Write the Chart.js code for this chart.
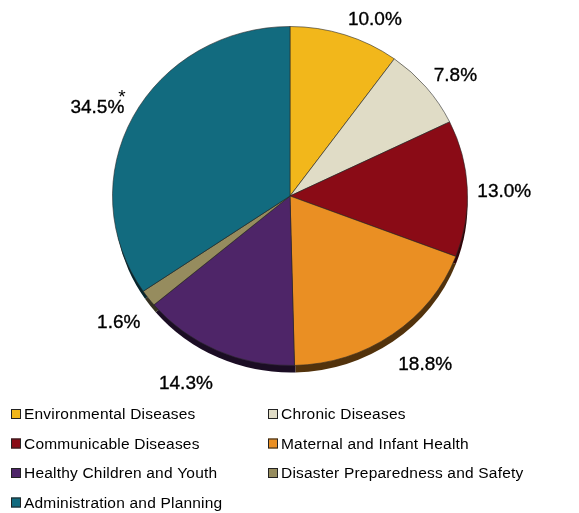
<!DOCTYPE html>
<html>
<head>
<meta charset="utf-8">
<script src="https://cdn.jsdelivr.net/npm/chart.js@4/dist/chart.umd.min.js"></script>
<style>
  html, body { margin: 0; padding: 0; background: #fff; }
  canvas { display: block; }
</style>
</head>
<body>
<canvas id="myChart" width="579" height="513"></canvas>
<script>
// data
var categories = ['Environmental Diseases', 'Chronic Diseases', 'Communicable Diseases',
  'Maternal and Infant Health', 'Healthy Children and Youth', 'Disaster Preparedness and Safety',
  'Administration and Planning'];
var shares = [10.0, 7.8, 13.0, 18.8, 14.3, 1.6, 34.5];
var notes = ['', '', '', '', '', '', '*'];
var colors = ['#F2B71B', '#E0DCC6', '#8A0B16', '#EA8F23', '#4E2568', '#968C5E', '#126B7F'];

var FONT = '"Liberation Sans", Arial, sans-serif';
var squash = 0.955;   // pie is drawn slightly flattened, like the original

function darker(hex, f) {
  var n = parseInt(hex.slice(1), 16);
  var r = Math.round(((n >> 16) & 255) * f), g = Math.round(((n >> 8) & 255) * f), b = Math.round((n & 255) * f);
  return 'rgb(' + r + ',' + g + ',' + b + ')';
}

// flatten the pie and put a dark rim under it
var rimPlugin = {
  id: 'rim',
  beforeDatasetsDraw: function(chart) {
    var ctx = chart.ctx;
    var arcs = chart.getDatasetMeta(0).data;
    var cx = arcs[0].x, cy = arcs[0].y;
    ctx.save();
    ctx.translate(cx, cy);
    ctx.scale(1, squash);
    ctx.translate(-cx, -cy);
    arcs.forEach(function(a, i) {
      var oy = a.y + 8 / squash;
      ctx.beginPath();
      ctx.moveTo(a.x + 1, oy);
      ctx.arc(a.x + 1, oy, a.outerRadius - 1, a.startAngle, a.endAngle);
      ctx.closePath();
      ctx.fillStyle = darker(colors[i], 0.35);
      ctx.fill();
    });
  },
  afterDatasetsDraw: function(chart) {
    chart.ctx.restore();
  }
};

// percentage labels outside the slices
var labelPlugin = {
  id: 'outLabels',
  afterDraw: function(chart) {
    var ctx = chart.ctx;
    var arcs = chart.getDatasetMeta(0).data;
    ctx.save();
    ctx.font = '19px ' + FONT;
    ctx.fillStyle = '#000';
    ctx.strokeStyle = '#000';
    ctx.lineWidth = 0.35;
    ctx.textAlign = 'center';
    ctx.textBaseline = 'middle';
    arcs.forEach(function(a, i) {
      var mid = (a.startAngle + a.endAngle) / 2;
      var c = Math.cos(mid), s = Math.sin(mid);
      var rx = a.outerRadius + 10;
      var ry = a.outerRadius * squash + 10 + (s > 0 ? 10 * s : 0);
      var px = a.x + rx * c, py = a.y + ry * s;
      var txt = shares[i].toFixed(1) + '%';
      var w = ctx.measureText(txt).width, h = 14;
      var kx = Math.max(-1, Math.min(1, c * 3.5));
      var ky = Math.max(-1, Math.min(1, s * 3.5));
      var tx = px + kx * w / 2, ty = py + ky * h / 2 + 5 + 4 * s;
      ctx.fillText(txt, tx, ty);
      ctx.strokeText(txt, tx, ty);
      if (notes[i]) {
        ctx.textAlign = 'left';
        ctx.fillText(notes[i], tx + w / 2 - 6, ty - 10);
        ctx.textAlign = 'center';
      }
    });
    ctx.restore();
  }
};

// two-column legend under the pie
var legendPlugin = {
  id: 'gridLegend',
  afterDraw: function(chart) {
    var ctx = chart.ctx;
    ctx.save();
    ctx.font = '15.5px ' + FONT;
    ctx.letterSpacing = '0.2px';
    ctx.textBaseline = 'middle';
    ctx.textAlign = 'left';
    categories.forEach(function(name, i) {
      var x = i % 2 === 0 ? 11 : 268;
      var y = 414 + Math.floor(i / 2) * 29.5;
      ctx.fillStyle = colors[i];
      ctx.fillRect(x, y - 5, 10, 10);
      ctx.strokeStyle = '#222';
      ctx.lineWidth = 1;
      ctx.strokeRect(x + 0.5, y - 4.5, 9, 9);
      ctx.fillStyle = '#000';
      ctx.fillText(name, x + 13, y + 1);
    });
    ctx.restore();
  }
};

var ctx = document.getElementById('myChart');
var myChart = new Chart(ctx, {
  type: 'pie',
  data: {
    labels: categories,
    datasets: [{
      data: shares,
      backgroundColor: colors,
      borderColor: 'rgba(40,40,40,0.6)',
      borderWidth: 1
    }]
  },
  options: {
    responsive: false,
    animation: false,
    layout: { padding: { left: 112, right: 111, top: 18, bottom: 139 } },
    plugins: {
      legend: { display: false },
      tooltip: { enabled: false }
    }
  },
  plugins: [rimPlugin, labelPlugin, legendPlugin]
});
</script>
</body>
</html>
